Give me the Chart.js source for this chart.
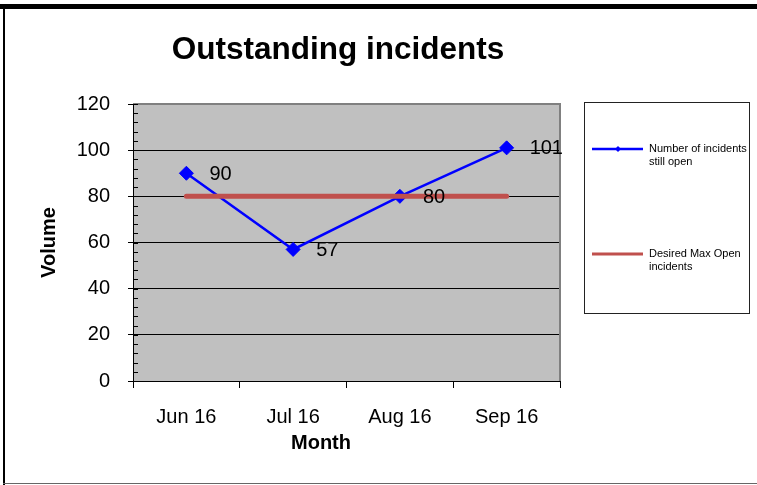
<!DOCTYPE html>
<html>
<head>
<meta charset="utf-8">
<script src="https://cdn.jsdelivr.net/npm/chart.js@4/dist/chart.umd.min.js"></script>
<style>
html,body{margin:0;padding:0;background:#fff}
#wrap{position:relative;width:757px;height:485px}
</style>
</head>
<body>
<div id="wrap"><canvas id="c" width="757" height="485"></canvas></div>
<script>
const months = ['Jun 16','Jul 16','Aug 16','Sep 16']
const openIncidents = [90, 57, 80, 101]
const desiredMax = [80, 80, 80, 80]
const yTicks = {min:0, max:120, step:20, minor:4}
const FONT = 'Arial, "Liberation Sans", sans-serif'

// frame, grey plot background, minor ticks, labels, legend
const decor = {
  id:'decor',
  beforeDraw(chart){
    const {ctx, chartArea:a} = chart
    ctx.save()
    ctx.fillStyle = '#c0c0c0'
    ctx.fillRect(a.left, a.top, a.right-a.left, a.bottom-a.top)
    ctx.restore()
  },
  beforeDatasetsDraw(chart){
    const {ctx, chartArea:a, scales} = chart
    ctx.save()
    // grey plot border top/right
    ctx.strokeStyle = '#808080'; ctx.lineWidth = 2
    ctx.beginPath()
    ctx.moveTo(a.left, a.top); ctx.lineTo(a.right, a.top); ctx.lineTo(a.right, a.bottom)
    ctx.stroke()
    // minor ticks on the value axis
    ctx.strokeStyle = '#000'; ctx.lineWidth = 1
    for(let v = yTicks.min; v <= yTicks.max; v += yTicks.minor){
      const y = Math.round(scales.y.getPixelForValue(v)) + 0.5
      ctx.beginPath(); ctx.moveTo(a.left, y); ctx.lineTo(a.left+5, y); ctx.stroke()
    }
    ctx.restore()
  },
  afterDatasetsDraw(chart){
    const {ctx} = chart
    const meta = chart.getDatasetMeta(0)
    ctx.save()
    ctx.font = '20px ' + FONT
    ctx.fillStyle = '#000'
    ctx.textBaseline = 'middle'
    meta.data.forEach((p,i)=>{
      ctx.fillText(String(openIncidents[i]), p.x + 23, p.y + 1)
    })
    ctx.restore()
  },
  afterDraw(chart){
    const {ctx} = chart
    ctx.save()
    // outer frame
    ctx.fillStyle = '#000'
    ctx.fillRect(0, 4, 757, 5)
    ctx.fillRect(3, 4, 2, 481)
    ctx.fillStyle = '#666'
    ctx.fillRect(3, 483, 754, 1)
    // title
    ctx.fillStyle = '#000'
    ctx.textAlign = 'center'; ctx.textBaseline = 'middle'
    ctx.font = 'bold 31.5px ' + FONT
    ctx.fillText('Outstanding incidents', 338, 50)
    // x axis title
    ctx.font = 'bold 20px ' + FONT
    ctx.fillText('Month', 321, 443)
    // legend
    ctx.strokeStyle = '#222'; ctx.lineWidth = 1
    ctx.strokeRect(584.5, 102.5, 165, 211)
    ctx.lineCap = 'butt'
    ctx.strokeStyle = '#0000ff'; ctx.lineWidth = 2.5
    ctx.beginPath(); ctx.moveTo(592, 149); ctx.lineTo(643, 149); ctx.stroke()
    ctx.fillStyle = '#0000ff'
    ctx.beginPath(); ctx.moveTo(618, 146); ctx.lineTo(621, 149); ctx.lineTo(618, 152); ctx.lineTo(615, 149); ctx.closePath(); ctx.fill()
    ctx.strokeStyle = '#c0504d'; ctx.lineWidth = 3
    ctx.beginPath(); ctx.moveTo(592, 254); ctx.lineTo(643, 254); ctx.stroke()
    ctx.fillStyle = '#000'
    ctx.textAlign = 'left'
    ctx.font = '11px ' + FONT
    ctx.fillText('Number of incidents', 649, 149)
    ctx.fillText('still open', 649, 162)
    ctx.fillText('Desired Max Open', 649, 254)
    ctx.fillText('incidents', 649, 267)
    ctx.restore()
  }
}

new Chart(document.getElementById('c').getContext('2d'), {
  type:'line',
  data:{
    labels:months,
    datasets:[
      {label:'Number of incidents still open', data:openIncidents, order:1,
       borderColor:'#0000ff', backgroundColor:'#0000ff', borderWidth:2.5,
       pointStyle:'rectRot', pointRadius:7, pointBorderWidth:1, pointBorderColor:'#0000ff', tension:0},
      {label:'Desired Max Open incidents', data:desiredMax, order:0,
       borderColor:'#c0504d', borderWidth:5, borderCapStyle:'round', pointRadius:0, tension:0}
    ]
  },
  options:{
    responsive:false,
    animation:false,
    events:[],
    layout:{padding:{top:104, right:197, bottom:0, left:0}},
    plugins:{legend:{display:false}, title:{display:false}, tooltip:{enabled:false}},
    scales:{
      x:{
        offset:true,
        grid:{offset:true, drawOnChartArea:false, tickLength:7, color:'#000'},
        border:{color:'#000', width:1},
        ticks:{color:'#000', padding:17, font:{size:20, family:FONT}, maxRotation:0},
        afterFit(s){ s.height = 104 }
      },
      y:{
        min:yTicks.min, max:yTicks.max,
        grid:{color:'#000', tickLength:5},
        border:{color:'#000', width:1},
        ticks:{stepSize:yTicks.step, color:'#000', padding:18, font:{size:20, family:FONT}},
        title:{display:true, text:'Volume', color:'#000', font:{size:20, weight:'bold', family:FONT}, padding:{top:37, bottom:0}},
        afterFit(s){ s.width = 133 }
      }
    }
  },
  plugins:[decor]
})
</script>
</body>
</html>
